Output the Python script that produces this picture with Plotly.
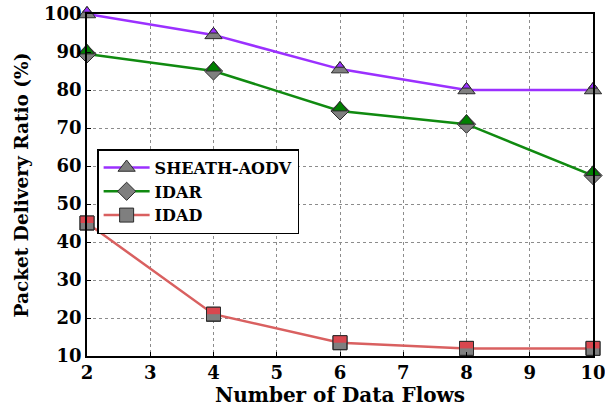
import plotly.graph_objects as go

flows = [2, 4, 6, 8, 10]
sheath_aodv = [100, 94.5, 85.5, 80, 80]
idar = [89.5, 85, 74.5, 71, 57.5]
idad = [45, 21, 13.5, 12, 12]

GRAY = "#7f7f7f"
EDGE = "#2b2b2b"
FONT = "DejaVu Serif"

fig = go.Figure()

def add_series(name, y, color, line_color, kind):
    if kind == "tri":
        s = 15
        fig.add_trace(go.Scatter(x=flows, y=y, name=name, mode="lines+markers", cliponaxis=False,
                                 line=dict(color=line_color, width=2.5),
                                 marker=dict(symbol="triangle-up", size=s, color=GRAY,
                                             line=dict(color=EDGE, width=1))))
        fig.add_trace(go.Scatter(x=flows, y=y, mode="markers", showlegend=False, cliponaxis=False,
                                 hoverinfo="skip",
                                 marker=dict(symbol="triangle-down", size=s / 2, angle=180, standoff=s / 4,
                                             color=color, line=dict(color=EDGE, width=1))))
    elif kind == "dia":
        s = 14
        fig.add_trace(go.Scatter(x=flows, y=y, name=name, mode="lines+markers", cliponaxis=False,
                                 line=dict(color=line_color, width=2.5),
                                 marker=dict(symbol="diamond", size=s, color=GRAY,
                                             line=dict(color=EDGE, width=1))))
        st = 13
        fig.add_trace(go.Scatter(x=flows, y=y, mode="markers", showlegend=False, cliponaxis=False,
                                 hoverinfo="skip",
                                 marker=dict(symbol="triangle-down", size=st, angle=180,
                                             standoff=st / 4,
                                             color=color, line=dict(color=EDGE, width=1))))
    else:
        s = 14
        fig.add_trace(go.Scatter(x=flows, y=y, name=name, mode="lines+markers", cliponaxis=False,
                                 line=dict(color=line_color, width=2.5),
                                 marker=dict(symbol="square", size=s, color=GRAY,
                                             line=dict(color=EDGE, width=1))))
        fig.add_trace(go.Scatter(x=flows, y=y, mode="markers", showlegend=False, cliponaxis=False,
                                 hoverinfo="skip",
                                 marker=dict(symbol="line-ew", size=s / 1.4, angle=180, standoff=s / 4,
                                             color=color, line=dict(color=color, width=s / 2))))
        fig.add_trace(go.Scatter(x=flows, y=y, mode="markers", showlegend=False, cliponaxis=False,
                                 hoverinfo="skip",
                                 marker=dict(symbol="square-open", size=s, color=EDGE,
                                             line=dict(color=EDGE, width=1))))

add_series("SHEATH-AODV", sheath_aodv, "#9b30ff", "#9b30ff", "tri")
add_series("IDAR", idar, "#008000", "#108a10", "dia")
add_series("IDAD", idad, "#d9474f", "#d96060", "sq")

axis_common = dict(showline=True, linecolor="black", linewidth=1.5, mirror=True,
                   showgrid=True, gridcolor="#8c8c8c", griddash="dot", gridwidth=1,
                   ticks="inside", ticklen=4, tickcolor="black", zeroline=False,
                   automargin=False, ticklabeloverflow="allow")

fig.update_xaxes(range=[2, 10], dtick=1, tick0=2,
                 tickfont=dict(family=FONT, size=18, color="black", weight="bold"),
                 title=dict(text="Number of Data Flows", standoff=6,
                            font=dict(family=FONT, size=20, color="black", weight="bold")),
                 **axis_common)
fig.update_yaxes(range=[10, 100], dtick=10, tick0=10,
                 tickfont=dict(family=FONT, size=18, color="black", weight="bold"),
                 title=dict(text="Packet Delivery Ratio (%)", standoff=11,
                            font=dict(family=FONT, size=18.5, color="black", weight="bold")),
                 **axis_common)

fig.update_layout(
    width=605, height=410,
    margin=dict(l=87, r=12, t=14, b=54),
    paper_bgcolor="white", plot_bgcolor="white",
    legend=dict(x=0.02, y=0.605, xanchor="left", yanchor="top",
                bgcolor="white", bordercolor="black", borderwidth=1.5,
                font=dict(family=FONT, size=16, color="black", weight="bold"),
                tracegroupgap=0, itemwidth=46),
)

fig.write_html("out.html")
